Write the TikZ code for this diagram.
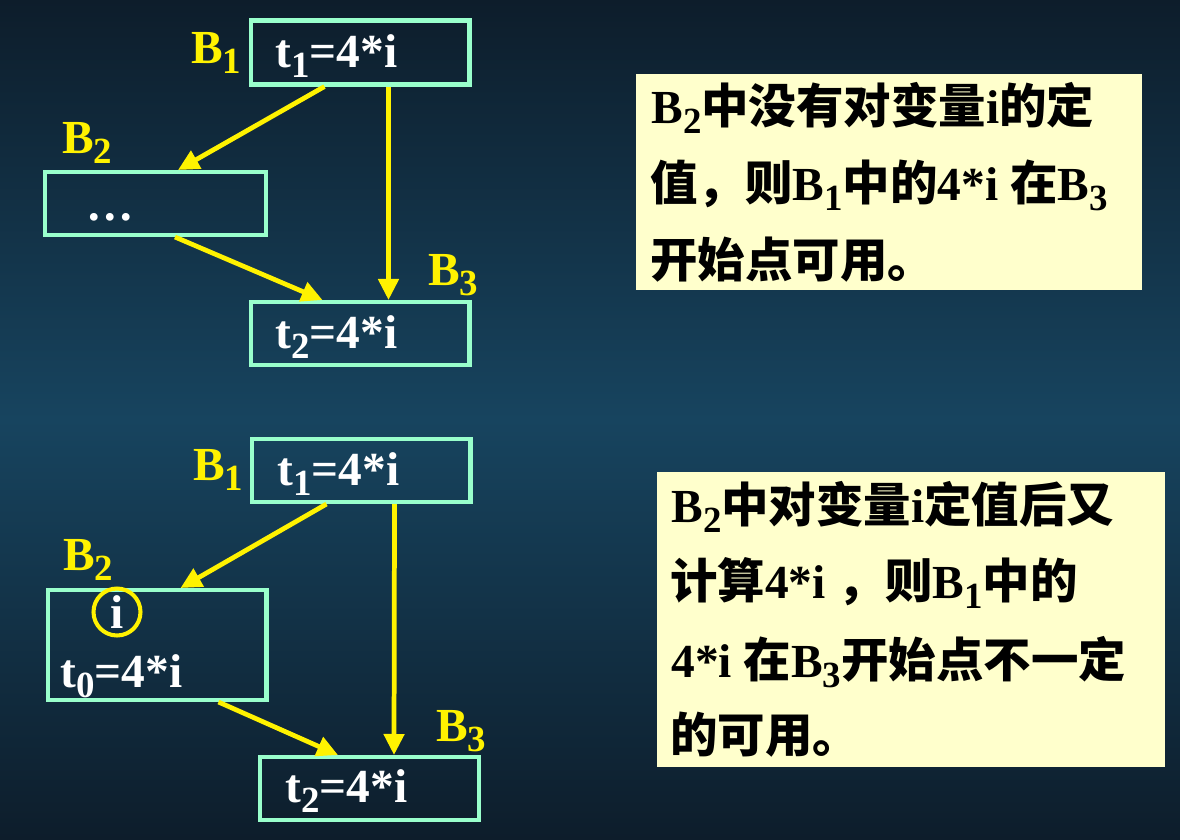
\documentclass[tikz,border=0pt]{standalone}
\usepackage{fontspec}
\setmainfont{Liberation Serif}
\newfontfamily\cjk{Noto Sans CJK SC}
\usetikzlibrary{positioning,calc,arrows.meta}
\definecolor{fundo}{HTML}{0D1D2B}
\definecolor{fundomeio}{HTML}{17445F}
\definecolor{borda}{HTML}{99FFCC}
\definecolor{nota}{HTML}{FFFFCC}
\newcommand \sbs[1] {\raisebox{-6pt}{\fontsize{21}{21}\selectfont #1}}
\newcommand \zh[1]  {{\cjk #1}}

\begin{document}
\begin{tikzpicture}[x=0.02cm, y=-0.02cm,
	blk/.style={draw=borda, line width=2.3pt, minimum width=4.38cm, minimum height=1.28cm, inner sep=0},
	txt/.style={text=white, font=\bfseries\fontsize{27}{27}\selectfont, inner sep=0, anchor=base west},
	lbl/.style={text=yellow, font=\bfseries\fontsize{27}{27}\selectfont, inner sep=0, anchor=base west},
	notebox/.style={fill=nota, inner sep=0},
	line/.style={text=black, font=\bfseries\fontsize{27}{27}\selectfont, inner sep=0, anchor=base west},
	seta/.style={draw=yellow, line width=2.7pt, -{Triangle[length=0.42cm, width=0.4cm]}}]
	% fundo
	\fill [fundo] (0,0) rectangle (1180,839);
	\shade [top color=fundo, bottom color=fundomeio] (0,0) rectangle (1180,420);
	\shade [top color=fundomeio, bottom color=fundo] (0,419) rectangle (1180,839);
	\useasboundingbox (0,0) rectangle (1180,839);

	% primeiro grafo
	\node [blk] (b1t) at (360,52.5) {};
	\node [blk, minimum width=4.42cm, minimum height=1.26cm] (b2t) at (155.5,203.5) {};
	\node [blk, minimum height=1.26cm] (b3t) at (360,333.5) {};
	\node [txt] (t1t) at (275,67) {t\sbs{1}=4*i};
	\node [txt] (dots) at (86,220) {\dots};
	\node [txt] (t2t) at (275,348) {t\sbs{2}=4*i};
	\node [lbl] (l1t) at (191,63) {B\sbs{1}};
	\node [lbl] (l2t) at (62,153) {B\sbs{2}};
	\node [lbl] (l3t) at (428,285) {B\sbs{3}};
	\draw [seta] ($(b1t.south west)+(76,0)$) -- ($(b2t.north west)+(135,0)$);
	\draw [seta] ($(b1t.south west)+(140,0)$) -- ($(b3t.north west)+(140,0)$);
	\draw [seta] ($(b2t.south west)+(132,0)$) -- ($(b3t.north west)+(74,0)$);

	% segundo grafo
	\node [blk, minimum height=1.26cm] (b1b) at (361,470.5) {};
	\node [blk, minimum height=2.2cm] (b2b) at (157,645) {};
	\node [blk, minimum height=1.26cm] (b3b) at (369.5,788.5) {};
	\node [txt] (t1b) at (277,485) {t\sbs{1}=4*i};
	\node [draw=yellow, line width=2.3pt, circle, minimum size=0.94cm, inner sep=0, text=white, font=\bfseries\fontsize{27}{27}\selectfont] (ci) at (117,612) {i};
	\node [txt] (t0b) at (60,687) {t\sbs{0}=4*i};
	\node [txt] (t2b) at (285,802) {t\sbs{2}=4*i};
	\node [lbl] (l1b) at (193,480) {B\sbs{1}};
	\node [lbl] (l2b) at (63,570) {B\sbs{2}};
	\node [lbl] (l3b) at (436,741) {B\sbs{3}};
	\draw [seta] ($(b1b.south west)+(77,0)$) -- ($(b2b.north west)+(135,0)$);
	\draw [seta] ($(b1b.south west)+(145,0)$) -- ($(b3b.north west)+(136,0)$);
	\draw [seta] ($(b2b.south west)+(173,0)$) -- ($(b3b.north west)+(80,0)$);

	% notas
	\node [notebox, minimum width=10.12cm, minimum height=4.32cm] (n1) at (889,182) {};
	\node [line] (n1a) at (651,123) {B\sbs{2}\zh{中没有对变量}i\zh{的定}};
	\node [line] (n1b) at (650,200) {\zh{值，则}B\sbs{1}\zh{中的}4*i \zh{在}B\sbs{3}};
	\node [line] (n1c) at (650,277) {\zh{开始点可用。}};
	\node [notebox, minimum width=10.16cm, minimum height=5.9cm] (n2) at (911,619.5) {};
	\node [line] (n2a) at (671,522) {B\sbs{2}\zh{中对变量}i\zh{定值后又}};
	\node [line] (n2b) at (670,598) {\zh{计算}4*i \zh{，则}B\sbs{1}\zh{中的}};
	\node [line] (n2c) at (671,677) {4*i \zh{在}B\sbs{3}\zh{开始点不一定}};
	\node [line] (n2d) at (670,752) {\zh{的可用。}};
\end{tikzpicture}
\end{document}
